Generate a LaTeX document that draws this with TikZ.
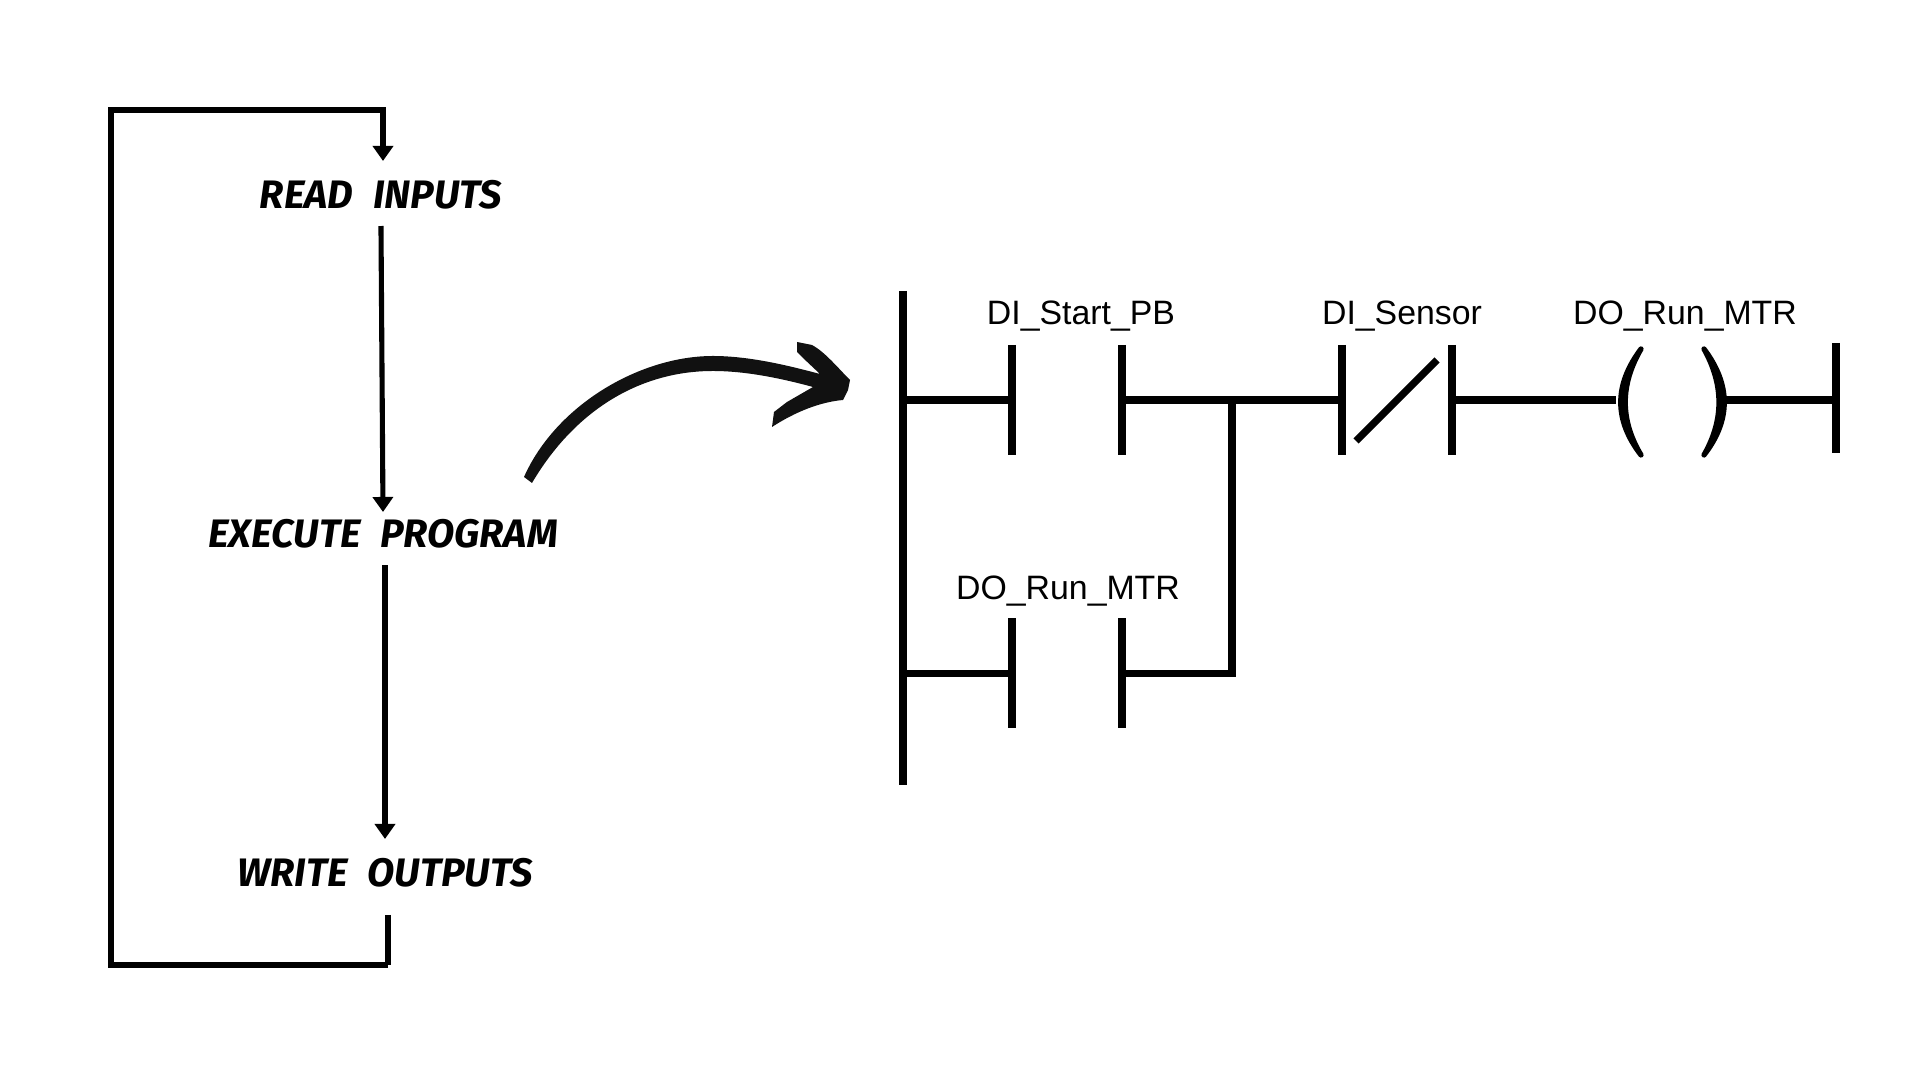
\documentclass[tikz,border=0pt]{standalone}
\usepackage{fontspec}
\setmainfont{Liberation Sans}
\newfontfamily\brushfont[WordSpace=2.2]{Fira Sans}
\usetikzlibrary{positioning,arrows.meta}
\definecolor{inkblack}{HTML}{111111}

\begin{document}
\begin{tikzpicture}[x=0.01cm, y=-0.01cm, >={Stealth[length=1.5mm, width=2mm, inset=0pt]}]
  \tikzset{
    scanlabel/.style={font=\brushfont\bfseries\itshape\fontsize{11.3}{12}\selectfont, inner xsep=0pt, inner ysep=0pt, outer sep=0pt},
    flow/.style={black, line width=1.45pt},
    rung/.style={black, line width=2.05pt},
    coilside/.style={fill=black, draw=black, line width=1.5pt, line join=round},
    taglabel/.style={font=\fontsize{9.62}{10}\selectfont, inner sep=0pt, anchor=base}
  }
  \useasboundingbox (0,0) rectangle (1920,1080);
  % scan cycle
  \node[scanlabel, minimum height=0.68cm] (read)  at (381,195) {READ INPUTS};
  \node[scanlabel, minimum height=0.44cm] (exec)  at (383,534) {EXECUTE PROGRAM};
  \node[scanlabel, minimum height=0.68cm] (write) at (385,873) {WRITE OUTPUTS};
  \coordinate (topright) at (383,110);
  \coordinate (topleft) at (111,110);
  \coordinate (botleft) at (111,965);
  \coordinate (botright) at (388,965);
  \coordinate (writeout) at (388,915);
  \draw[flow, ->] (botright) -- (botleft) -- (topleft) -- (topright) -- (read.north -| topright);
  \draw[flow] (writeout) -- (botright);
  \draw[flow, ->, shorten <=-0.03cm] (read.south) -- (exec.north);
  \draw[flow, ->, shorten <=0.09cm] (exec.south -| write.north) -- (write.north);
  % big curved arrow
  \fill[inkblack] (524,477) .. controls (556,405) and (640,356) .. (713,356)
    .. controls (750,356) and (790,366) .. (820,374)
    -- (803,358) -- (797,352) -- (797,342) -- (812,345)
    .. controls (825,352) and (838,368) .. (850,380)
    -- (848,390) -- (843,400)
    .. controls (820,402) and (795,412) .. (772,427)
    -- (774,412) -- (787,402) -- (813,387)
    .. controls (780,378) and (745,371) .. (713,371)
    .. controls (640,371) and (575,410) .. (532,483)
    -- cycle;
  % ladder rails and wires
  \coordinate (railtop) at (903,291);
  \coordinate (railbot) at (903,785);
  \coordinate (railA) at (903,400);
  \coordinate (railB) at (903,673.5);
  \coordinate (startL) at (1012,400);
  \coordinate (startR) at (1122,400);
  \coordinate (sensorL) at (1342,400);
  \coordinate (sensorR) at (1452,400);
  \coordinate (holdL) at (1012,673.5);
  \coordinate (holdR) at (1122,673.5);
  \coordinate (branch) at (1232,400);
  \coordinate (coilL) at (1616,400);
  \coordinate (coilR) at (1726,400);
  \coordinate (railend) at (1836,400);
  \draw[rung] (railtop) -- (railbot);
  \draw[rung] (railA) -- (startL);
  \draw[rung] (startR) -- (sensorL);
  \draw[rung] (sensorR) -- (coilL);
  \draw[rung] (coilR) -- (railend);
  \draw[rung] (railB) -- (holdL);
  \draw[rung] (holdR) -| (branch);
  \foreach \x/\y in {1012/400,1122/400,1342/400,1452/400,1012/673.5,1122/673.5}
    \draw[rung] (\x,\y-55) -- (\x,\y+55);
  \draw[rung] (1836,343) -- (1836,453);
  \draw[rung] (1356,441) -- (1437,360);
  \draw[coilside] (1641,349) .. controls (1614,385) and (1614,420) .. (1641,455)
    .. controls (1620,420) and (1620,385) .. cycle;
  \draw[coilside] (1704,349) .. controls (1731,385) and (1731,420) .. (1704,455)
    .. controls (1724,420) and (1724,385) .. cycle;
  % tags
  \node[taglabel] (tagstart)  at (1081,325) {DI\_Start\_PB};
  \node[taglabel] (tagsensor) at (1402,325) {DI\_Sensor};
  \node[taglabel] (tagcoil)   at (1685,325) {DO\_Run\_MTR};
  \node[taglabel] (taghold)   at (1068,600) {DO\_Run\_MTR};
\end{tikzpicture}
\end{document}
